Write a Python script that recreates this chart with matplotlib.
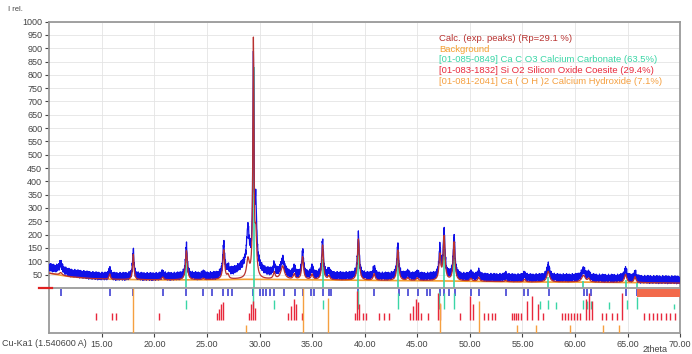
import matplotlib
matplotlib.use("Agg")
import matplotlib.pyplot as plt
import numpy as np

plt.rcParams['font.family'] = ['Liberation Sans', 'DejaVu Sans']

# background nodes (2theta, counts)
bg_theta = [10, 11, 12, 14, 16, 20, 25, 28, 30, 35, 40, 45, 50, 55, 60, 65, 70]
bg_value = [55, 48, 42, 35, 32, 30, 30, 32, 32, 30, 28, 27, 25, 22, 22, 20, 18]

# extra counts of the measured pattern above the background
ex_theta = [10, 11, 12, 15, 20, 26, 27.5, 28.5, 29.5, 30.5, 33, 40, 50, 60, 65, 66, 70]
ex_value = [22, 20, 14, 10, 12, 14, 30, 48, 50, 28, 16, 15, 15, 15, 15, 12, 12]

# measured peaks: position, observed height, calculated height, width
pk_pos = [11.1, 15.76, 18.0, 20.8, 23.05, 24.66, 26.6, 27.0, 28.9, 29.42, 29.65,
          31.4, 32.2, 33.3, 34.1, 35.0, 36.0, 36.6, 39.4, 40.9, 43.15, 44.1, 45.0,
          47.15, 47.55, 48.5, 50.1, 50.85, 53.4, 55.2, 57.45, 60.8, 61.3, 64.8, 65.7]
pk_obs = [25, 30, 100, 15, 115, 10, 115, 20, 140, 760, 220,
          30, 55, 30, 90, 30, 135, 20, 155, 35, 120, 15, 15,
          105, 175, 155, 15, 20, 10, 15, 45, 30, 15, 35, 25]
pk_calc = [10, 20, 95, 10, 110, 5, 110, 15, 70, 880, 150,
           25, 50, 20, 85, 20, 130, 15, 155, 25, 115, 10, 10,
           95, 165, 145, 10, 15, 5, 10, 40, 25, 12, 30, 22]
pk_w = [0.3, 0.15, 0.15, 0.2, 0.2, 0.2, 0.2, 0.2, 0.3, 0.12, 0.2,
        0.2, 0.4, 0.2, 0.2, 0.2, 0.18, 0.2, 0.2, 0.2, 0.2, 0.2, 0.2,
        0.2, 0.2, 0.2, 0.2, 0.2, 0.2, 0.2, 0.3, 0.4, 0.2, 0.25, 0.2]

# detector jitter
jitter = [5, -8, 12, -4, -14, 9, 3, -10, 15, -6, 0, 8, -12, 4, 13, -5, -15, 6, 10, -3,
          -9, 14, -1, -13, 7, 1, -8, 11, -4, 5, -10, 9, -14, 2, 6, -6, 15, -2, -11, 4, 0,
          -7, 10]

# peak list markers
mark_pos = [11.1, 15.76, 18.0, 20.8, 23.04, 24.66, 25.45, 26.56, 26.97, 27.35, 29.42,
            30.0, 30.3, 30.6, 31.0, 31.4, 32.3, 33.33, 34.12, 34.9, 35.2, 36.0, 36.57,
            36.83, 39.36, 40.89, 43.25, 44.13, 45.09, 45.89, 46.2, 47.16, 47.54, 48.04,
            48.58, 50.1, 50.87, 53.42, 55.19, 55.51, 57.48, 60.82, 61.14, 61.5, 64.86, 65.9]

# Ca C O3 calcium carbonate
cc_pos = [23.05, 29.42, 31.4, 36.0, 39.4, 43.15, 47.1, 47.5, 48.5, 56.7, 57.4, 58.2,
          60.8, 61.1, 61.5, 63.2, 64.9, 65.85, 69.4]
cc_top = [-45, -2, -45, -45, -8, -20, -15, -20, -20, -50, -45, -52,
          -45, -50, -50, -52, -45, -35, -60]
cc_prof_pos = [23.05, 29.5, 36.0, 39.4, 43.15, 47.55, 48.5, 57.45, 60.8, 64.8, 65.85]
cc_prof_h = [110, 830, 110, 150, 120, 160, 140, 40, 25, 30, 20]

# Si O2 coesite
co_pos = [14.43, 16.0, 16.33, 20.46, 26.0, 26.15, 26.3, 26.5, 29.0, 29.2, 29.4, 29.6,
          32.7, 33.0, 33.3, 33.5, 34.0, 39.1, 39.3, 39.5, 39.8, 40.1, 41.4, 41.8, 42.3,
          44.3, 44.6, 44.9, 45.1, 45.4, 46.0, 47.0, 47.2, 49.1, 50.0, 50.3, 51.3, 51.7,
          52.1, 52.4, 54.0, 54.2, 54.4, 54.6, 54.9, 55.4, 55.9, 56.5, 57.0, 58.75, 59.0,
          59.3, 59.6, 59.9, 60.2, 60.5, 61.0, 61.3, 61.6, 62.6, 62.9, 63.5, 64.0, 64.5,
          66.6, 67.0, 67.4, 67.8, 68.2, 68.6, 69.0, 69.5]
co_top = [-95, -95, -95, -95, -95, -80, -60, -55, -95, -60, -50, -75,
          -95, -70, -40, -60, -95, -95, -10, -60, -95, -95, -95, -95, -95,
          -95, -70, -40, -55, -95, -95, -20, -60, -95, -30, -60, -95, -95,
          -95, -95, -95, -95, -95, -95, -95, -50, -30, -60, -95, -95, -95,
          -95, -95, -95, -95, -95, -40, -20, -50, -95, -95, -95, -95, -20,
          -95, -95, -95, -95, -95, -95, -95, -95]

# Ca (O H)2 calcium hydroxide
ch_pos = [18.0, 28.7, 34.1, 36.55, 47.15, 50.85, 54.45, 56.3, 59.5, 62.7, 64.2]
ch_top = [0, -140, 0, -38, -57, -51, -140, -140, -140, -140, -140]

legend_txt = ['Calc. (exp. peaks) (Rp=29.1 %)', 'Background',
              '[01-085-0849] Ca C O3 Calcium Carbonate (63.5%)',
              '[01-083-1832] Si O2 Silicon Oxide Coesite (29.4%)',
              '[01-081-2041] Ca ( O H )2 Calcium Hydroxide (7.1%)']
legend_col = ['#b8312f', '#f5a030', '#3ad6a6', '#e8283c', '#f5a040']

x = np.arange(10, 70.001, 0.02)
bg = np.interp(x, bg_theta, bg_value)
obs = bg + np.interp(x, ex_theta, ex_value)
calc = bg.copy()
for p, ho, hc, w in zip(pk_pos, pk_obs, pk_calc, pk_w):
    prof = 1 / (1 + ((x - p) / (w / 2)) ** 2)
    obs += ho * prof
    calc += hc * prof
obs += np.resize(jitter, x.size)

fig = plt.figure(figsize=(6.92, 3.54), dpi=100)
ax = fig.add_axes([0.071, 0.059, 0.912, 0.88])

ax.grid(True, color='#e4e4e4', lw=0.6)
ax.set_axisbelow(True)

ax.plot(x, bg, color='#f5a030', lw=1.2, zorder=2)
ax.vlines(cc_prof_pos, 0, cc_prof_h, color='#3ad6a6', lw=1.2, zorder=2)
ax.plot(x, obs, color='#1010e8', lw=0.9, zorder=3)
ax.plot(x, calc, color='#b8312f', lw=0.9, zorder=4)

ax.axhline(0, color='#9a9a9a', lw=1.3, zorder=5)
ax.vlines(mark_pos, -30, -5, color='#3030d0', lw=1.1, zorder=5)
ax.vlines(cc_pos, -78, cc_top, color='#3ad6a6', lw=1.0, zorder=5)
ax.vlines(co_pos, -120, co_top, color='#e8283c', lw=1.0, zorder=5)
ax.vlines(ch_pos, -170, ch_top, color='#f5a040', lw=1.0, zorder=5)
ax.fill_between([65.9, 70], -34, -5, color='#f26a4b', lw=0, zorder=5)
ax.plot([-0.016, 0.004], [0.145, 0.145], transform=ax.transAxes, color='#e02020',
        lw=1.6, clip_on=False, zorder=6)

ax.set_xlim(10, 70)
ax.set_ylim(-170, 1000)
ax.set_xticks(np.arange(15, 71, 5))
ax.set_xticklabels(['%.2f' % v for v in np.arange(15, 71, 5)])
ax.set_yticks(np.arange(50, 1001, 50))
ax.tick_params(labelsize=6.5, colors='#444444', length=3, width=0.8, pad=2)
for s in ax.spines.values():
    s.set_color('#9a9a9a')
    s.set_linewidth(1.3)

fig.text(0.012, 0.972, 'I rel.', fontsize=5.5, color='#444444', va='center')
fig.text(0.003, 0.03, 'Cu-Ka1 (1.540600 A)', fontsize=6.5, color='#444444', va='center')
fig.text(0.947, 0.012, '2theta', fontsize=6.5, color='#444444', va='center', ha='center')

for i, (t, c) in enumerate(zip(legend_txt, legend_col)):
    ax.text(0.618, 0.945 - i * 0.034, t, transform=ax.transAxes, fontsize=6.8, color=c,
            va='center')

fig.savefig('out.png', dpi=100)
